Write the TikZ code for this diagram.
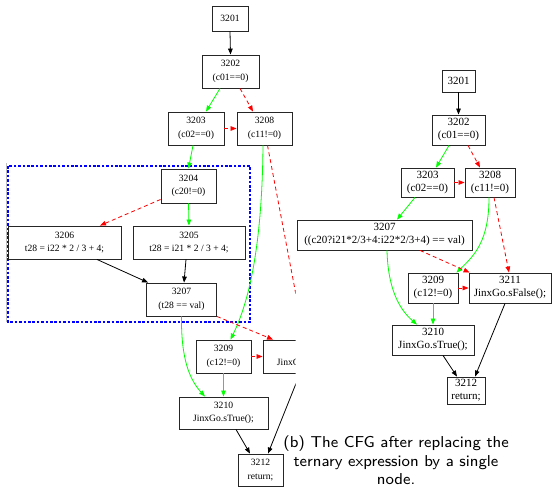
\documentclass[tikz,border=0pt]{standalone}
\usepackage{fontspec}
\newfontfamily\gvfont{Liberation Serif}
\usetikzlibrary{arrows.meta}
\begin{document}
\begin{tikzpicture}[x=1pt,y=-1pt,
  box/.style={draw=black!85, line width=0.9pt, inner sep=0pt, align=center},
  lbox/.style={box, font=\gvfont\fontsize{9.6}{13.5}\selectfont},
  rbox/.style={box, font=\gvfont\fontsize{11}{13}\selectfont},
  arr/.style={-{Triangle[length=6pt,width=4.6pt]}, line width=0.8pt},
  plain/.style={arr, draw=black},
  tedge/.style={arr, draw=green},
  fedge/.style={arr, draw=red, dash pattern=on 4pt off 3pt},
  region/.style={draw=blue, line width=1.2pt, dash pattern=on 2.6pt off 1.8pt},
  caption/.style={font=\sffamily\footnotesize, align=center, inner sep=0pt, scale=1.975}
]
\clip (0,0) rectangle (553,487);

% ---------------- left graph (clipped) ----------------
\begin{scope}
\clip (0,0) rectangle (295.5,487);
\draw[black!25, line width=0.6pt] (6,163) -- (6,322);
\draw[region] (8,166) rectangle (250,322);

\node[lbox, minimum width=36pt, minimum height=25pt] (l3201) at (230,18.5) {3201};
\node[lbox, minimum width=57pt, minimum height=33pt] (l3202) at (230.5,71.5) {3202\\(c01==0)};
\node[lbox, minimum width=56pt, minimum height=33pt] (l3203) at (196,128.5) {3203\\(c02==0)};
\node[lbox, minimum width=55pt, minimum height=33pt] (l3208) at (264.5,128.5) {3208\\(c11!=0)};
\node[lbox, minimum width=55pt, minimum height=34pt] (l3204) at (188.5,186) {3204\\(c20!=0)};
\node[lbox, minimum width=113pt, minimum height=33pt] (l3206) at (64.5,242.5) {3206\\t28 = i22 * 2 / 3 + 4;};
\node[lbox, minimum width=112pt, minimum height=33pt] (l3205) at (189,242.5) {3205\\t28 = i21 * 2 / 3 + 4;};
\node[lbox, minimum width=70pt, minimum height=33pt] (l3207) at (181.5,299.5) {3207\\(t28 == val)};
\node[lbox, minimum width=55pt, minimum height=33pt] (l3209) at (223.5,356.5) {3209\\(c12!=0)};
\node[lbox, minimum width=91pt, minimum height=33pt] (l3211) at (308.5,356.5) {3211\\JinxGo.sFalse();};
\node[lbox, minimum width=89pt, minimum height=32pt] (l3210) at (223.5,413) {3210\\JinxGo.sTrue();};
\node[lbox, minimum width=45pt, minimum height=32pt] (l3212) at (260.5,470) {3212\\return;};

\draw[plain] (l3201.south) -- (l3202.north);
\draw[tedge] ([xshift=-10.5pt]l3202.south) -- ([xshift=10pt]l3203.north);
\draw[fedge] ([xshift=9.5pt]l3202.south) -- ([xshift=-11.5pt]l3208.north);
\draw[fedge] (l3203.east) -- (l3208.west);
\draw[tedge] ([xshift=-3pt]l3203.south) -- (l3204.north);
\draw[tedge] ([xshift=-1.5pt]l3208.south) .. controls (262,260) and (245,310) .. ([xshift=7pt]l3209.north);
\draw[fedge] ([xshift=3pt]l3208.south) -- ([xshift=-4pt]l3211.north);
\draw[tedge] (l3204.south) -- (l3205.north);
\draw[fedge] ([yshift=4pt]l3204.south west) -- ([xshift=35.5pt]l3206.north);
\draw[plain] ([xshift=32.5pt]l3206.south) -- ([xshift=2pt]l3207.north west);
\draw[plain] ([xshift=-3pt]l3205.south) -- ([xshift=2.5pt]l3207.north);
\draw[tedge] (l3207.south) .. controls (181,360) and (190,380) .. ([xshift=-18.5pt]l3210.north);
\draw[fedge] (l3207.south east) -- ([xshift=-35.5pt]l3211.north);
\draw[fedge] (l3209.east) -- (l3211.west);
\draw[tedge] (l3209.south) -- (l3210.north);
\draw[plain] ([xshift=12.5pt]l3210.south) -- ([xshift=-10.5pt]l3212.north);
\draw[plain] ([xshift=-8.5pt]l3211.south) -- ([xshift=7.5pt]l3212.north);
\end{scope}

% ---------------- right graph ----------------
\node[rbox, minimum width=33pt, minimum height=22pt] (r3201) at (458.5,81) {3201};
\node[rbox, minimum width=53pt, minimum height=30pt] (r3202) at (458.5,130) {3202\\(c01==0)};
\node[rbox, minimum width=53pt, minimum height=29pt] (r3203) at (427.5,182.5) {3203\\(c02==0)};
\node[rbox, minimum width=50pt, minimum height=29pt] (r3208) at (490,182.5) {3208\\(c11!=0)};
\node[rbox, minimum width=175pt, minimum height=30pt] (r3207) at (384.5,235) {3207\\((c20?i21*2/3+4:i22*2/3+4) == val)};
\node[rbox, minimum width=50pt, minimum height=30pt] (r3209) at (433,288) {3209\\(c12!=0)};
\node[rbox, minimum width=82pt, minimum height=30pt] (r3211) at (510,288) {3211\\JinxGo.sFalse();};
\node[rbox, minimum width=82pt, minimum height=30pt] (r3210) at (433,340) {3210\\JinxGo.sTrue();};
\node[rbox, minimum width=38pt, minimum height=27pt] (r3212) at (466,390.5) {3212\\return;};

\draw[plain] (r3201.south) -- (r3202.north);
\draw[tedge] ([xshift=-9.5pt]r3202.south) -- ([xshift=8.5pt]r3203.north);
\draw[fedge] ([xshift=9.5pt]r3202.south) -- ([xshift=-10pt]r3208.north);
\draw[fedge] (r3203.east) -- (r3208.west);
\draw[tedge] ([xshift=-12.5pt]r3203.south) -- ([xshift=12.5pt]r3207.north);
\draw[tedge] ([xshift=-1pt]r3208.south) .. controls (489,240) and (475,255) .. ([xshift=-2pt]r3209.north east);
\draw[fedge] ([xshift=4pt]r3208.south) -- ([xshift=-1pt]r3211.north);
\draw[fedge] ([xshift=35.5pt]r3207.south) -- ([xshift=1pt]r3211.north west);
\draw[tedge] ([xshift=2.5pt]r3207.south) .. controls (388,290) and (400,310) .. ([xshift=-16pt]r3210.north);
\draw[fedge] (r3209.east) -- (r3211.west);
\draw[tedge] (r3209.south) -- (r3210.north);
\draw[plain] ([xshift=10pt]r3210.south) -- ([xshift=-9pt]r3212.north);
\draw[plain] ([xshift=-5pt]r3211.south) -- ([xshift=9pt]r3212.north);

% ---------------- caption ----------------
\node[caption, anchor=north] (cap) at (396,435) {(b) The CFG after replacing the\\ternary expression by a single\\node.};
\end{tikzpicture}
\end{document}
